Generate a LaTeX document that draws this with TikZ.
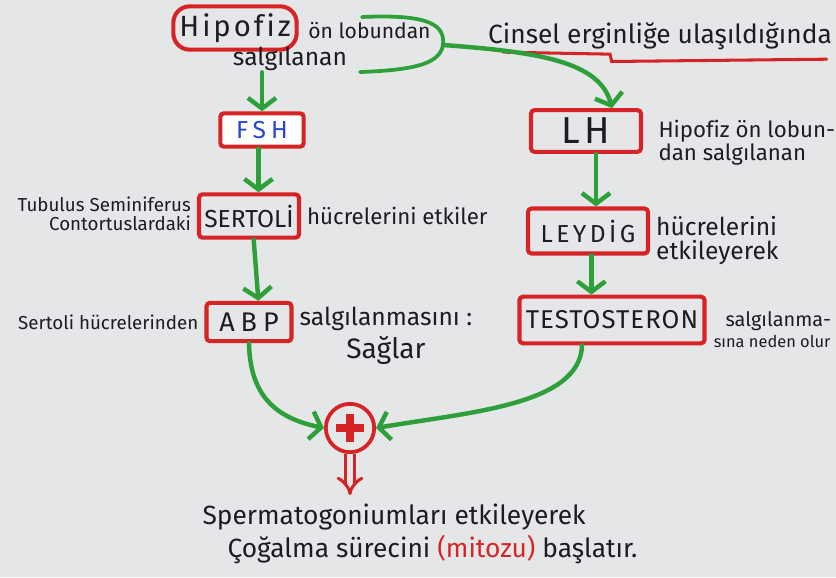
\documentclass[tikz,border=0pt]{standalone}
\usepackage{fontspec}
\setmainfont{Fira Sans}[Ligatures=NoCommon]
\usepackage{tikz}
\usetikzlibrary{positioning,arrows.meta,calc}
\definecolor{paper}{RGB}{229,230,232}
\definecolor{penred}{RGB}{214,36,38}
\definecolor{marker}{RGB}{46,160,58}
\definecolor{ink}{RGB}{28,28,34}
\definecolor{penblue}{RGB}{36,70,210}
\newcommand{\fsz}[1]{\fontsize{#1}{#1}\selectfont}
\tikzset{
  rbox/.style={draw=penred,line width=3.5pt,rounded corners=3pt,inner sep=3pt,
               text=ink,font=\fsz{20}\addfontfeature{LetterSpace=8}},
  note/.style={text=ink,font=\fsz{18},inner sep=1pt},
  small/.style={note,font=\fsz{16}},
  flow/.style={draw=marker,line width=3.8pt,line cap=round,
               -{Straight Barb[length=9pt,width=24pt,line width=3.8pt]}},
  brace/.style={draw=marker,line width=3.2pt,line cap=round},
}
\begin{document}
\begin{tikzpicture}[x=0.03cm,y=-0.03cm,node distance=4pt]
  \clip (0,0) rectangle (836,577);
  \fill[paper] (0,0) rectangle (836,577);

  % left branch: FSH -> Sertoli -> ABP
  \node[rbox,rounded corners=14pt,minimum width=3.7cm,minimum height=1.3cm,
        font=\fsz{25}\addfontfeature{LetterSpace=10}] (hipofiz) at (235,28) {Hipofiz};
  \node[note,right=7pt of hipofiz,yshift=-2pt] (onlob) {ön lobundan};
  \node[note,font=\fsz{21}] (salg) at (290,59) {salgılanan};
  \node[rbox,fill=white,minimum width=2.5cm,minimum height=1cm,text=penblue,
        font=\fsz{21}\addfontfeature{LetterSpace=20}] (fsh) at (262,130) {FSH};
  \node[rbox,minimum width=3cm,minimum height=1.3cm,font=\fsz{21}] (sertoli) at (249,216) {SERTOLİ};
  \node[small,left=of sertoli,align=right,yshift=2pt] (tubulus) {Tubulus Seminiferus\\Contortuslardaki};
  \node[note,font=\fsz{19},right=of sertoli] (etkiler) {hücrelerini etkiler};
  \node[rbox,minimum width=2.55cm,minimum height=1.15cm,
        font=\fsz{23}\addfontfeature{LetterSpace=22}] (abp) at (249,322) {ABP};
  \node[small,left=of abp] (sertolihuc) {Sertoli hücrelerinden};
  \node[note,right=4pt of abp,yshift=-12pt,align=center] (saglar)
       {\fsz{21}salgılanmasını :\\[4pt]\fsz{24}Sağlar};

  % right branch: LH -> Leydig -> Testosteron
  \node[note,font=\fsz{22.5}] (cinsel) at (660,36) {Cinsel erginliğe ulaşıldığında};
  \node[rbox,minimum width=3.3cm,minimum height=1.25cm,
        font=\fsz{32}\addfontfeature{LetterSpace=12}] (lh) at (586,131) {LH};
  \node[note,font=\fsz{19},right=12pt of lh,align=left,yshift=-10pt] (lhnote)
       {Hipofiz ön lobun-\\dan salgılanan};
  \node[rbox,minimum width=3.6cm,minimum height=1.35cm,
        font=\fsz{21}\addfontfeature{LetterSpace=14}] (leydig) at (588,231) {LEYDİG};
  \node[note,font=\fsz{21},right=of leydig,align=left,yshift=-8pt] (leydignote)
       {hücrelerini\\etkileyerek};
  \node[rbox,minimum width=5.55cm,minimum height=1.4cm,
        font=\fsz{22}\addfontfeature{LetterSpace=4}] (testo) at (612,320) {TESTOSTERON};
  \node[note,right=5pt of testo,align=left,yshift=-8pt] (testonote)
       {\fsz{17}\hspace*{10pt}salgılanma-\\\fsz{14}sına neden olur};

  % both meet here
  \node[circle,draw=penred,line width=3.2pt,minimum size=1.45cm,inner sep=0pt,
        path picture={\draw[penred,line width=6pt]
          ([xshift=-0.42cm]path picture bounding box.center) -- ++(0.84cm,0)
          ([yshift=-0.42cm]path picture bounding box.center) -- ++(0,0.84cm);}]
        (plus) at (350,428) {};
  \node[note,font=\fsz{22.5},align=left] (result) at (420,534)
       {Spermatogoniumları etkileyerek\\[3pt]\hspace*{0.75cm}Çoğalma sürecini
        {\color{penred}(mitozu)} başlatır.};

  % red underline with a step
  \draw[penred,line width=2.6pt,line cap=round]
    ([xshift=0.5cm,yshift=-1pt]cinsel.south west) -- ++(3.2cm,-0.06cm)
    -- ++(0.05cm,-0.22cm) -- ([xshift=-0.2cm,yshift=-7pt]cinsel.south east);

  % green brace round "ön lobundan salgılanan"
  \coordinate (bt) at (443,45);
  \draw[brace] (362,17) .. controls (430,14) and (445,25) .. (bt)
    .. controls (440,62) and (420,70) .. (360,72);

  \draw[flow] (bt) .. controls (540,52) and (600,62) .. ([xshift=0.78cm]lh.north);
  \draw[flow] (fsh.north |- salg.south) -- (fsh.north);
  \draw[flow] ([xshift=-3pt]fsh.south) -- ([xshift=-3pt]fsh.south |- sertoli.north);
  \draw[flow] ([xshift=4pt]sertoli.south) -- ([xshift=8pt]abp.north);
  \draw[flow] ([xshift=0.3cm]lh.south) -- ([xshift=0.3cm]lh.south |- leydig.north);
  \draw[flow] ([xshift=0.1cm]leydig.south) -- ([xshift=0.1cm]leydig.south |- testo.north);
  \draw[flow] (abp.south) .. controls (250,395) and (275,418) .. (plus.west);
  \draw[flow] ([xshift=-0.9cm]testo.south) .. controls (580,405) and (470,412) .. (plus.east);
  \draw[penred,line width=2.6pt,double=paper,double distance=5pt,
        -{Implies[length=10pt,width=24pt]}] (plus.south) -- (350,495);
\end{tikzpicture}
\end{document}
